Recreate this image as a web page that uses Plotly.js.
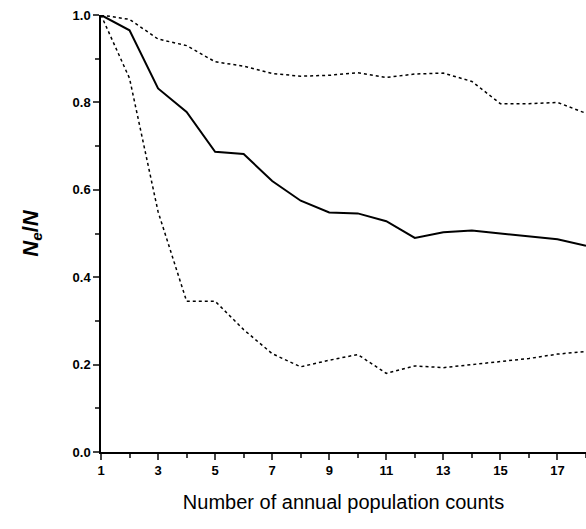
<!DOCTYPE html>
<html><head><script src="https://cdn.plot.ly/plotly-3.0.1.min.js"></script></head>
<body style="margin:0"><div id="c" style="width:586px;height:529px"></div>
<script>
const counts=[1,2,3,4,5,6,7,8,9,10,11,12,13,14,15,16,17,18];
const mean=[1.0,0.965,0.832,0.778,0.687,0.682,0.62,0.575,0.548,0.546,0.528,0.49,0.503,0.507,0.5,0.494,0.487,0.472];
const upper=[1.0,0.99,0.945,0.93,0.893,0.883,0.866,0.86,0.862,0.868,0.857,0.865,0.867,0.848,0.797,0.797,0.8,0.775];
const lower=[1.0,0.855,0.55,0.345,0.345,0.28,0.225,0.195,0.21,0.223,0.18,0.197,0.193,0.2,0.208,0.214,0.224,0.23];
const tickVals=[1,3,5,7,9,11,13,15,17];
const yTicks=[0,0.2,0.4,0.6,0.8,1.0];
const yLabels=['0.0','0.2','0.4','0.6','0.8','1.0'];
const traces=[
 {x:counts,y:upper,mode:'lines',line:{color:'#000',width:1.5,dash:'dot'}},
 {x:counts,y:mean,mode:'lines',line:{color:'#000',width:2}},
 {x:counts,y:lower,mode:'lines',line:{color:'#000',width:1.5,dash:'dot'}}
];
const f={family:'Liberation Sans, Arial',size:13,color:'#000',weight:'bold'};
Plotly.newPlot('c',traces,{
 width:586,height:529,showlegend:false,margin:{l:101,r:0,t:15,b:77},
 plot_bgcolor:'#fff',paper_bgcolor:'#fff',
 xaxis:{range:[1,18],tickvals:tickVals,ticks:'outside',ticklen:6,tickwidth:1.5,showline:true,linewidth:1.5,linecolor:'#000',showgrid:false,zeroline:false,tickfont:f,
  minor:{tickvals:[2,4,6,8,10,12,14,16,18],ticks:'outside',ticklen:4,tickwidth:1.5},
  title:{text:'Number of annual population counts',font:{family:'Liberation Sans, Arial',size:20,color:'#000'},standoff:18}},
 yaxis:{range:[0,1],tickvals:yTicks,ticktext:yLabels,ticks:'outside',ticklen:6,tickwidth:1.5,showline:true,linewidth:1.5,linecolor:'#000',showgrid:false,zeroline:false,tickfont:f,
  minor:{tickvals:[0.1,0.3,0.5,0.7,0.9],ticks:'outside',ticklen:4,tickwidth:1.5},
  title:{text:'<b><i>N<sub>e</sub></i>/<i>N</i></b>',font:{family:'Liberation Sans, Arial',size:22,color:'#000'},standoff:28}}
},{displayModeBar:false});
</script></body></html>
